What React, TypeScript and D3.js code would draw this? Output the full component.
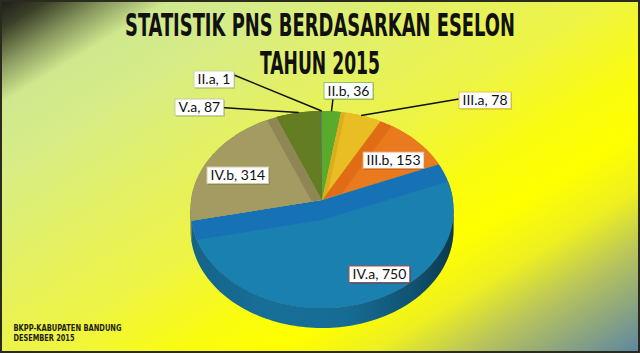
import React, { useEffect, useRef } from "react";
import * as d3 from "d3";

// ---- data (clockwise from 12 o'clock) ----
const categories = ["II.b", "III.a", "III.b", "IV.a", "IV.b", "V.a", "II.a"];
const values = [36, 78, 153, 750, 314, 87, 1];
const titleLines = ["STATISTIK PNS BERDASARKAN ESELON", "TAHUN 2015"];
const footerLines = ["BKPP-KABUPATEN BANDUNG", "DESEMBER 2015"];

// ---- styles ----
const topColors = ["#5aaa2c", "#e8be24", "#ea7a1e", "#1a80b0", "#a39b62", "#647c22", "#3a6aa0"];
const bandColors = ["#50a028", "#dcae1e", "#e06c16", "#1671b5", "#8e8654", "#5a7020", "#3a6aa0"];
const borderColors = ["#90c468", "#e8c448", "#eca070", "#b04848", "#d0caa8", "#c4cca8", "#c8d8a8"];
// label box layout (left, top) and leader start points
const labelBoxes: [number, number][] = [
  [324, 82.5], [459, 92], [363, 152], [349, 266], [207, 167], [175, 99], [194, 71],
];
const leaderStarts: ([number, number] | null)[] = [
  [333, 98.5], [459, 99], null, null, null, [221, 107.5], [234, 75],
];

const W = 640, H = 353;
const cx = 322, cy = 200, rx = 130.9, ry = 97.6, kP = 0.0964, depth = 20, bevel = 20;

function proj(a: number): [number, number] {
  const d = 1 + kP * Math.cos(a);
  return [cx + (rx * Math.sin(a)) / d, cy - (ry * Math.cos(a)) / d];
}
function arcPts(a0: number, a1: number): [number, number][] {
  const n = Math.max(2, Math.ceil(((a1 - a0) / (2 * Math.PI)) * 240));
  const pts: [number, number][] = [];
  for (let i = 0; i <= n; i++) pts.push(proj(a0 + ((a1 - a0) * i) / n));
  return pts;
}

export default function App() {
  const ref = useRef<SVGSVGElement>(null);
  useEffect(() => {
    const svg = d3.select(ref.current!);
    svg.selectAll("*").remove();
    const defs = svg.append("defs");

    // background gradient
    const bg = defs.append("linearGradient").attr("id", "bg")
      .attr("gradientUnits", "userSpaceOnUse")
      .attr("x1", 0).attr("y1", 0).attr("x2", 328).attr("y2", 541);
    const bgStops: [number, string][] = [
      [0, "#1c1c18"], [0.04, "#3a4028"], [0.09, "#8a9a60"], [0.14, "#cfe88e"],
      [0.22, "#d6ec88"], [0.35, "#e2f068"], [0.5, "#eef444"], [0.62, "#fafc10"],
      [0.7, "#ffff00"], [0.78, "#eef020"], [0.86, "#b8c45c"], [0.94, "#84a084"], [1, "#5c86a2"],
    ];
    bgStops.forEach(([o, c]) => bg.append("stop").attr("offset", o).attr("stop-color", c));
    svg.append("rect").attr("width", W).attr("height", H).attr("fill", "url(#bg)");
    svg.append("rect").attr("x", 1).attr("y", 1).attr("width", W - 2).attr("height", H - 2)
      .attr("fill", "none").attr("stroke", "#2a2a1e").attr("stroke-width", 2);

    // title
    const tl = [390, 120];
    const ty = [36, 74];
    titleLines.forEach((t, i) => {
      svg.append("text").text(t)
        .attr("transform", `translate(320,${ty[i]}) scale(1,1.6)`)
        .attr("x", 0).attr("y", 0)
        .attr("text-anchor", "middle")
        .attr("font-family", "'DejaVu Sans Condensed', 'DejaVu Sans', sans-serif")
        .attr("font-stretch", "condensed")
        .attr("font-weight", "bold").attr("font-size", 20).attr("fill", "#111")
        .attr("textLength", tl[i]).attr("lengthAdjust", "spacingAndGlyphs");
    });

    // footer
    const fl = [108, 61];
    footerLines.forEach((t, i) => {
      svg.append("text").text(t).attr("x", 13.5).attr("y", 331 + i * 10)
        .attr("font-family", "'DejaVu Sans', sans-serif").attr("font-weight", "bold")
        .attr("font-size", 8).attr("fill", "#1e1e10")
        .attr("textLength", fl[i]).attr("lengthAdjust", "spacingAndGlyphs");
    });

    const pie = d3.pie<number>().sort(null).value((d) => d).startAngle(0).endAngle(2 * Math.PI);
    const arcs = pie(values);
    const line = d3.line();
    const apex: [number, number] = [cx, cy];
    const aL = Math.acos(-kP);
    const aR = 2 * Math.PI - aL;

    // sides
    const gSide = svg.append("g");
    arcs.forEach((a, i) => {
      const s0 = Math.max(a.startAngle, aL), s1 = Math.min(a.endAngle, aR);
      if (s1 <= s0) return;
      const top = arcPts(s0, s1);
      const bot = top.map(([x, y]) => [x, y + depth] as [number, number]).reverse();
      gSide.append("path").attr("d", line([...top, ...bot])! + "Z")
        .attr("fill", d3.color(topColors[i])!.darker(0.35).formatHex());
    });
    const sg = defs.append("linearGradient").attr("id", "sideShade")
      .attr("gradientUnits", "userSpaceOnUse")
      .attr("x1", cx - 132).attr("y1", 0).attr("x2", cx + 132).attr("y2", 0);
    [[0, 0.12], [0.3, 0.02], [0.6, 0.05], [0.85, 0.28], [1, 0.5]].forEach(([o, op]) =>
      sg.append("stop").attr("offset", o).attr("stop-color", "#000").attr("stop-opacity", op));
    {
      const top = arcPts(aL, aR);
      const bot = top.map(([x, y]) => [x, y + depth] as [number, number]).reverse();
      gSide.append("path").attr("d", line([...top, ...bot])! + "Z").attr("fill", "url(#sideShade)");
      gSide.append("path").attr("d", line(top)!).attr("fill", "none")
        .attr("stroke", "#3a5f7a").attr("stroke-width", 0.8).attr("stroke-opacity", 0.7);
    }

    // top faces
    const gTop = svg.append("g");
    arcs.forEach((a, i) => {
      const pts = [apex, ...arcPts(a.startAngle, a.endAngle)];
      const d = line(pts)! + "Z";
      const cid = "clip" + i;
      defs.append("clipPath").attr("id", cid).append("path").attr("d", d);
      gTop.append("path").attr("d", d).attr("fill", bandColors[i]);
      const big = [apex, ...arcPts(a.startAngle, a.endAngle).map(([x, y]) =>
        [cx + 3 * (x - cx), cy + 3 * (y - cy)] as [number, number])]
        .map(([x, y]) => [x, y + bevel] as [number, number]);
      gTop.append("path").attr("d", line(big)! + "Z").attr("fill", topColors[i])
        .attr("clip-path", `url(#${cid})`);
    });

    // leader lines
    arcs.forEach((a, i) => {
      const s = leaderStarts[i];
      if (!s) return;
      const e = proj((a.startAngle + a.endAngle) / 2);
      svg.append("line").attr("x1", s[0]).attr("y1", s[1]).attr("x2", e[0]).attr("y2", e[1])
        .attr("stroke", "#111").attr("stroke-width", 1.5);
    });

    // labels
    arcs.forEach((a, i) => {
      const [bx, by] = labelBoxes[i];
      const g = svg.append("g");
      const shadow = g.append("rect");
      const rect = g.append("rect");
      const txt = g.append("text").text(`${categories[i]}, ${values[i]}`)
        .attr("font-family", "Lato, 'Open Sans', sans-serif").attr("font-size", 14)
        .attr("fill", "#111").attr("x", bx + 3.5).attr("y", by + 13);
      const w = (txt.node() as SVGTextElement).getComputedTextLength() + 7;
      shadow.attr("x", bx + 1).attr("y", by + 1).attr("width", w).attr("height", 16.5)
        .attr("fill", "#000").attr("fill-opacity", 0.25);
      rect.attr("x", bx).attr("y", by).attr("width", w).attr("height", 16.5)
        .attr("fill", "#fff").attr("stroke", borderColors[i]).attr("stroke-width", 1);
    });
  }, []);
  return (
    <>
      <style>{`body{margin:0}`}</style>
      <svg ref={ref} width={W} height={H} style={{ display: "block" }} />
    </>
  );
}
